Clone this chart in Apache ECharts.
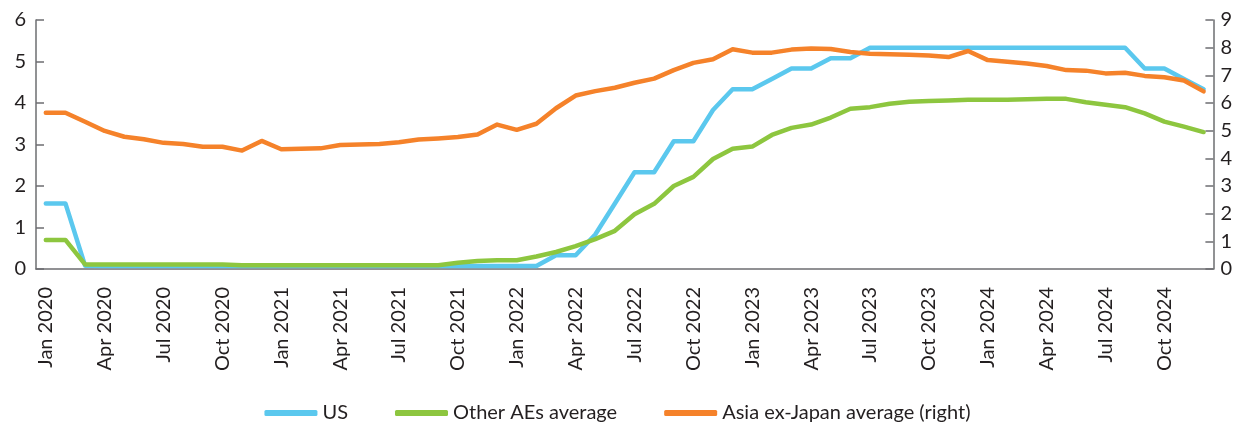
<!DOCTYPE html>
<html>
<head>
<meta charset="utf-8">
<script src="https://cdn.jsdelivr.net/npm/echarts@6/dist/echarts.min.js"></script>
<style>
  html, body { margin: 0; padding: 0; background: #fff; }
  #chart { width: 1235px; height: 423px; }
</style>
</head>
<body>
<div id="chart"></div>
<script>
// Monthly categories, Jan 2020 – Dec 2024
const monthNames = ['Jan', 'Feb', 'Mar', 'Apr', 'May', 'Jun', 'Jul', 'Aug', 'Sep', 'Oct', 'Nov', 'Dec'];
const years = [2020, 2021, 2022, 2023, 2024];
const months = [];
years.forEach(y => monthNames.forEach(m => months.push(m + ' ' + y)));

// Policy rates, % (left axis)
const usRate = [
  1.58, 1.58, 0.08, 0.07, 0.07, 0.07, 0.07, 0.07, 0.07, 0.07, 0.07, 0.07,
  0.07, 0.07, 0.07, 0.07, 0.07, 0.07, 0.07, 0.07, 0.07, 0.07, 0.07, 0.07,
  0.07, 0.07, 0.33, 0.33, 0.83, 1.58, 2.33, 2.33, 3.08, 3.08, 3.83, 4.33,
  4.33, 4.58, 4.83, 4.83, 5.08, 5.08, 5.33, 5.33, 5.33, 5.33, 5.33, 5.33,
  5.33, 5.33, 5.33, 5.33, 5.33, 5.33, 5.33, 5.33, 4.83, 4.83, 4.58, 4.33
];
const otherAEs = [
  0.70, 0.70, 0.11, 0.11, 0.11, 0.11, 0.11, 0.11, 0.11, 0.11, 0.09, 0.09,
  0.09, 0.09, 0.09, 0.09, 0.09, 0.09, 0.09, 0.09, 0.09, 0.15, 0.19, 0.21,
  0.21, 0.30, 0.41, 0.55, 0.72, 0.92, 1.32, 1.57, 2.00, 2.22, 2.65, 2.90,
  2.95, 3.23, 3.40, 3.48, 3.65, 3.86, 3.90, 3.98, 4.03, 4.05, 4.06, 4.08,
  4.08, 4.08, 4.09, 4.10, 4.10, 4.02, 3.96, 3.90, 3.75, 3.55, 3.43, 3.30
];
// Asia ex-Japan average, % (right axis)
const asiaExJapan = [
  5.65, 5.65, 5.32, 4.99, 4.78, 4.69, 4.56, 4.52, 4.42, 4.42, 4.28, 4.63,
  4.33, 4.35, 4.36, 4.48, 4.50, 4.52, 4.58, 4.68, 4.72, 4.77, 4.86, 5.22,
  5.03, 5.25, 5.81, 6.27, 6.43, 6.55, 6.73, 6.88, 7.19, 7.45, 7.58, 7.94,
  7.82, 7.82, 7.93, 7.97, 7.95, 7.84, 7.78, 7.76, 7.74, 7.72, 7.66, 7.88,
  7.55, 7.49, 7.43, 7.34, 7.19, 7.17, 7.07, 7.09, 6.98, 6.93, 6.81, 6.42
];

const leftTicks = { min: 0, max: 6, interval: 1 };
const rightTicks = { min: 0, max: 9, interval: 1 };

const textColor = '#231f20';
const axisColor = '#6d6e71';
const fontFamily = 'Lato, "Open Sans", sans-serif';

const chart = echarts.init(document.getElementById('chart'), null, { renderer: 'canvas' });

function lineSeries(name, data, color, yAxisIndex) {
  return {
    name: name,
    type: 'line',
    data: data,
    yAxisIndex: yAxisIndex,
    symbol: 'none',
    smooth: false,
    lineStyle: { color: color, width: 4.5, cap: 'round', join: 'round' },
    itemStyle: { color: color },
    emphasis: { disabled: true }
  };
}

chart.setOption({
  animation: false,
  textStyle: { fontFamily: fontFamily, color: textColor },
  grid: { left: 36, right: 20, top: 20, bottom: 154, containLabel: false },
  legend: {
    bottom: 0,
    left: 'center',
    padding: 0,
    icon: 'roundRect',
    itemWidth: 53,
    itemHeight: 6,
    itemGap: 47,
    textStyle: { fontSize: 20, color: textColor, fontFamily: fontFamily },
    data: ['US', 'Other AEs average', 'Asia ex-Japan average (right)']
  },
  xAxis: {
    type: 'category',
    data: months,
    boundaryGap: true,
    axisLine: { lineStyle: { color: axisColor, width: 1.5 } },
    axisTick: { interval: 2, length: 6, lineStyle: { color: axisColor, width: 1.5 } },
    axisLabel: {
      interval: 2,
      rotate: 90,
      margin: 18,
      fontSize: 20,
      color: textColor,
      fontFamily: fontFamily
    },
    splitLine: { show: false }
  },
  yAxis: [
    {
      type: 'value',
      min: leftTicks.min, max: leftTicks.max, interval: leftTicks.interval,
      axisLine: { show: true, lineStyle: { color: axisColor, width: 1.5 } },
      axisTick: { show: true, inside: true, length: 8, lineStyle: { color: axisColor, width: 1.5 } },
      axisLabel: { fontSize: 20, color: textColor, margin: 10, fontFamily: fontFamily },
      splitLine: { show: false }
    },
    {
      type: 'value',
      min: rightTicks.min, max: rightTicks.max, interval: rightTicks.interval,
      position: 'right',
      axisLine: { show: true, lineStyle: { color: axisColor, width: 1.5 } },
      axisTick: { show: true, inside: true, length: 8, lineStyle: { color: axisColor, width: 1.5 } },
      axisLabel: { fontSize: 20, color: textColor, margin: 7, fontFamily: fontFamily },
      splitLine: { show: false }
    }
  ],
  series: [
    lineSeries('US', usRate, '#5bc8ee', 0),
    lineSeries('Other AEs average', otherAEs, '#8dc63f', 0),
    lineSeries('Asia ex-Japan average (right)', asiaExJapan, '#f5822a', 1)
  ]
});
</script>
</body>
</html>
